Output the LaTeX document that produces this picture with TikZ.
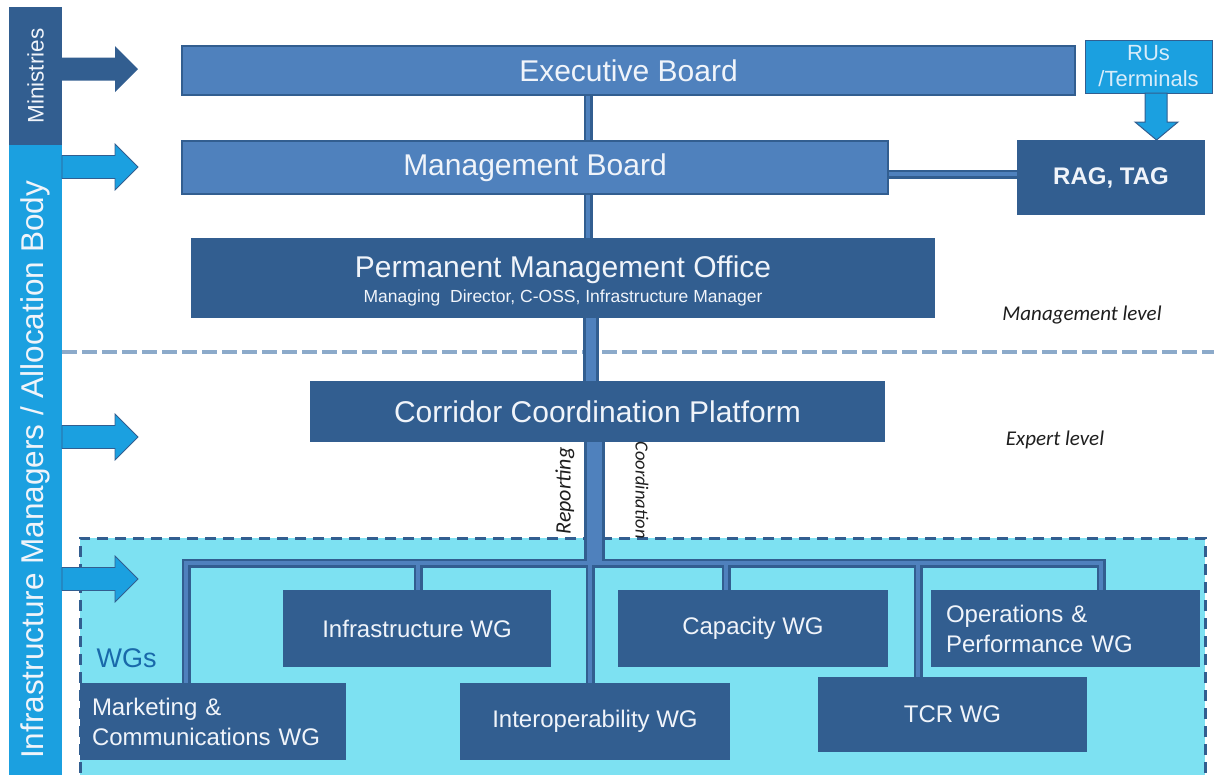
\documentclass[tikz,border=0pt]{standalone}
\usepackage{fontspec}
\setmainfont{Liberation Sans}
\newfontfamily\calfont{Carlito}
\pgfdeclarelayer{back}
\pgfdeclarelayer{wires}
\pgfsetlayers{back,wires,main}
\definecolor{dk}{RGB}{50,94,144}
\definecolor{md}{RGB}{79,129,189}
\definecolor{br}{RGB}{27,160,224}
\definecolor{wgbg}{RGB}{125,225,242}
\definecolor{wgtxt}{RGB}{25,105,170}
\definecolor{lvl}{RGB}{140,170,202}
\definecolor{txt}{RGB}{240,244,250}
\definecolor{rutxt}{RGB}{215,236,250}
\definecolor{lbl}{RGB}{30,30,30}
\newcommand\wirepaths[3]{%
  \draw[#1] (exec.south -| t1) -- (mb.north -| t1);
  \draw[#1] (mb.south -| t1) -- (pmo.north -| t1);
  \draw[#1] (mb.east |- ry) -- (rag.west |- ry);
  \draw[#2] (pmo.south -| t2) -- (ccp.north -| t2);
  \draw[#3] (ccp.south -| t3) -- (t3 |- busy);
  \draw[#1] (mkt.north -| b1) -- (b1 |- busy) -- (b6 |- busy) -- (ops.north -| b6);
  \draw[#1] (b2 |- busy) -- (infra.north -| b2);
  \draw[#1] (b3 |- busy) -- (interop.north -| b3);
  \draw[#1] (b4 |- busy) -- (cap.north -| b4);
  \draw[#1] (b5 |- busy) -- (tcr.north -| b5);
}
\begin{document}
\begin{tikzpicture}[x=1pt,y=-1pt,
  box/.style={rectangle, inner sep=0pt, outer sep=0pt, text=txt, align=center},
  darkbox/.style={box, fill=dk},
  midbox/.style={box, fill=md, draw=dk, line width=2.5pt},
  bigtext/.style={font=\fontsize{30}{34}\selectfont},
  wgbox/.style={darkbox, font=\fontsize{24}{30}\selectfont},
  lvllabel/.style={text=lbl, font=\calfont\itshape\fontsize{21}{24}\selectfont},
  blockarr/.pic={\path[pic actions] (0,-11.5) -- (53,-11.5) -- (53,-23) -- (76,0) -- (53,23) -- (53,11.5) -- (0,11.5) -- cycle;},
  line join=miter
]
\useasboundingbox (0,0) rectangle (1218,774);

% coordinates for connector lines
\coordinate (t1) at (588,0);
\coordinate (t2) at (591,0);
\coordinate (t3) at (594,0);
\coordinate (ry) at (0,174);
\coordinate (busy) at (0,563);
\coordinate (b1) at (186,0);
\coordinate (b2) at (418,0);
\coordinate (b3) at (590,0);
\coordinate (b4) at (726,0);
\coordinate (b5) at (918,0);
\coordinate (b6) at (1101,0);

% side bars
\node[box, fill=dk, rotate=90, minimum width=138pt, minimum height=53pt,
      font=\fontsize{22.5}{26}\selectfont] (min) at (35.5,76) {Ministries};
\node[box, fill=br, rotate=90, minimum width=650pt, minimum height=53pt,
      font=\fontsize{31.5}{34}\selectfont] (imab) at (35.5,470) {Infrastructure Managers / Allocation Body};

% WG area
\begin{pgfonlayer}{back}
\node[rectangle, inner sep=0pt, fill=wgbg, draw=dk, line width=3pt, dash pattern=on 11pt off 7pt,
      minimum width=1125pt, minimum height=262pt] (wgarea) at (642.5,669) {};
\draw[lvl, line width=4pt, dash pattern=on 15pt off 5pt] (62,352) -- (1214,352);
\end{pgfonlayer}

% boards
\node[midbox, bigtext, minimum width=893pt, minimum height=49pt] (exec) at (628.5,70.5) {Executive Board};
\node[box, fill=br, draw=dk, line width=1pt, text=rutxt, minimum width=127pt, minimum height=53pt,
      font=\fontsize{22}{26}\selectfont] (rus) at (1148.5,66.5) {RUs\\/Terminals};
\node[darkbox, minimum width=188pt, minimum height=75pt,
      font=\bfseries\fontsize{24}{28}\selectfont] (rag) at (1111,177.5) {RAG, TAG};
\node[midbox, bigtext, minimum width=706pt, minimum height=53pt] (mb) at (535,167.5) {Management Board};
\node[darkbox, bigtext, minimum width=744pt, minimum height=80pt] (pmo) at (563,278)
  {\rule{0pt}{27pt}Permanent Management Office\\[-9pt]{\fontsize{17.5}{20}\selectfont Managing\ \ Director, C-OSS, Infrastructure Manager}};
\node[darkbox, bigtext, minimum width=575pt, minimum height=61pt] (ccp) at (597.5,411.5) {Corridor Coordination Platform};

% WG boxes
\node[wgbox, minimum width=268pt, minimum height=77pt] (infra) at (417,628.5) {Infrastructure WG};
\node[wgbox, minimum width=270pt, minimum height=77pt] (cap) at (753,628.5) {Capacity WG};
\node[wgbox, align=left, inner xsep=15pt, text width=239pt, minimum height=77pt] (ops) at (1065.5,628.5) {Operations \&\\Performance WG};
\node[wgbox, align=left, inner xsep=12pt, text width=242pt, minimum height=77pt] (mkt) at (213,721.5) {Marketing \&\\Communications WG};
\node[wgbox, minimum width=270pt, minimum height=77pt] (interop) at (595,721.5) {Interoperability WG};
\node[wgbox, minimum width=269pt, minimum height=75pt] (tcr) at (952.5,714.5) {TCR WG};

\node[anchor=base west, text=wgtxt, font=\fontsize{27}{30}\selectfont] (wgs) at (93,667) {WGs};

% connectors (double lines)
\begin{pgfonlayer}{wires}
\wirepaths{draw=dk,line width=9pt}{draw=dk,line width=16pt}{draw=dk,line width=21pt}
\wirepaths{draw=md,line width=4pt}{draw=md,line width=10pt}{draw=md,line width=15pt}
\end{pgfonlayer}

% level labels
\node[lvllabel] (mlvl) at (1082,315) {Management level};
\node[lvllabel] (elvl) at (1055,440) {Expert level};
\node[rotate=90, text=lbl, font=\calfont\itshape\fontsize{22}{24}\selectfont] (rep) at (565,491) {Reporting};
\node[rotate=-90, text=lbl, font=\calfont\itshape\fontsize{18.5}{20}\selectfont] (coord) at (642,490) {Coordination};

% block arrows
\pic[fill=dk] at (62,69) {blockarr};
\pic[fill=br, draw=dk, line width=0.8pt] at (62,167) {blockarr};
\pic[fill=br, draw=dk, line width=0.8pt] at (62,437) {blockarr};
\pic[fill=br, draw=dk, line width=0.8pt] at (62,579) {blockarr};
\path[fill=br, draw=dk, line width=1pt] (1145,93) -- (1167,93) -- (1167,122) -- (1178,122)
  -- (1156.5,140) -- (1135,122) -- (1145,122) -- cycle;
\end{tikzpicture}
\end{document}
